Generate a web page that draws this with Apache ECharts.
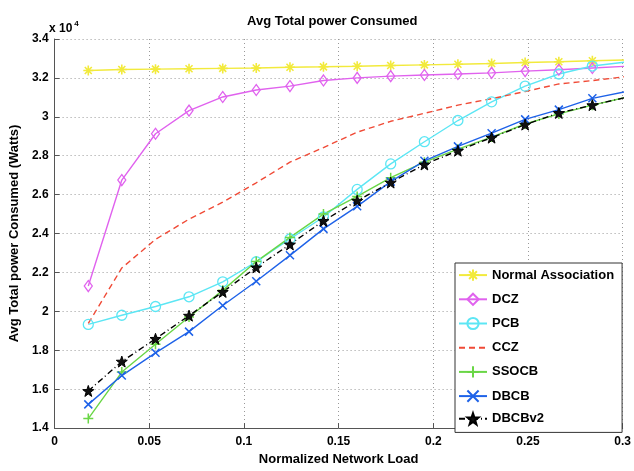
<!DOCTYPE html>
<html>
<head>
<meta charset="utf-8">
<script src="https://cdn.jsdelivr.net/npm/echarts@6/dist/echarts.min.js"></script>
<style>
html, body { margin: 0; padding: 0; background: #fff; }
#chart { width: 634px; height: 471px; }
</style>
</head>
<body>
<div id="chart"></div>
<script>
// normalized network load (x)
var loads = [0.0178, 0.0355, 0.0533, 0.0710, 0.0888, 0.1065, 0.1243, 0.1420, 0.1598,
  0.1775, 0.1953, 0.2130, 0.2308, 0.2485, 0.2663, 0.2840, 0.3018];

// avg total power consumed (Watts)
var normalAssoc = [32380, 32430, 32450, 32470, 32490, 32510, 32550, 32570, 32600,
  32640, 32670, 32700, 32740, 32790, 32830, 32880, 32920];
var dcz = [21300, 26750, 29130, 30320, 31020, 31380, 31580, 31870, 32000,
  32090, 32150, 32200, 32260, 32350, 32420, 32510, 32600];
var pcb = [19330, 19800, 20250, 20750, 21520, 22550, 23720, 24850, 26270,
  27580, 28720, 29810, 30770, 31580, 32200, 32610, 32820];
var ccz = [19380, 22230, 23700, 24740, 25610, 26610, 27670, 28420, 29210,
  29770, 30180, 30600, 30930, 31300, 31690, 31860, 32070];
var ssocb = [14490, 16880, 18310, 19710, 21080, 22560, 23800, 25000, 25910,
  26870, 27670, 28340, 28960, 29630, 30150, 30600, 31000];
var dbcb = [15220, 16700, 17870, 18960, 20300, 21550, 22880, 24240, 25400,
  26670, 27740, 28480, 29160, 29870, 30370, 30950, 31300];
var dbcbv2 = [15910, 17420, 18590, 19780, 21000, 22260, 23440, 24650, 25690,
  26620, 27550, 28260, 28930, 29600, 30200, 30600, 31000];

var xTicks = ['0', '0.05', '0.1', '0.15', '0.2', '0.25', '0.3'];

// matlab style markers
var asterisk = 'path://M0,-10L0,10M-10,0L10,0M-7,-7L7,7M-7,7L7,-7';
var plus = 'path://M0,-10L0,10M-10,0L10,0';
var cross = 'path://M-10,-10L10,10M-10,10L10,-10';
var diamond = 'path://M0,-10L7,0L0,10L-7,0Z';
var circle = 'path://M0,-10A10,10,0,1,1,0,10A10,10,0,1,1,0,-10Z';
var star = 'path://M0,-10L2.35,-3.24L9.51,-3.09L3.8,1.24L5.88,8.09L0,4L-5.88,8.09L-3.8,1.24L-9.51,-3.09L-2.35,-3.24Z';

function pairs(ys) {
  return ys.map(function (y, i) { return [loads[i], y]; });
}

function mk(name, ys, color, symbol, size, opts) {
  opts = opts || {};
  return {
    name: name,
    type: 'line',
    data: pairs(ys),
    symbol: symbol,
    symbolSize: size,
    showAllSymbol: true,
    clip: true,
    animation: false,
    lineStyle: { color: color, width: 1.4, type: opts.dash || 'solid' },
    itemStyle: {
      color: opts.fill || 'none',
      borderColor: color,
      borderWidth: opts.bw || 1.3
    }
  };
}

var chart = echarts.init(document.getElementById('chart'));
var font = 'Liberation Sans, Arial, sans-serif';

var option = {
  backgroundColor: '#fff',
  animation: false,
  title: {
    text: 'Avg Total power Consumed',
    left: 247,
    top: 15,
    padding: 0,
    textStyle: { fontFamily: font, fontSize: 13, fontWeight: 'bold', color: '#000' }
  },
  graphic: [{
    type: 'text',
    left: 49,
    top: 20,
    style: {
      text: 'x 10{s|4}',
      fontFamily: font,
      fontSize: 12,
      fontWeight: 'bold',
      fill: '#000',
      rich: { s: { fontSize: 8, fontWeight: 'bold', verticalAlign: 'top', padding: [0, 0, 9, 2] } }
    }
  }],
  grid: { left: 49, right: 10.5, top: 39, bottom: 34 },
  legend: {
    orient: 'vertical',
    left: 455,
    top: 263,
    padding: [4, 8, 7, 3],
    itemWidth: 28,
    itemHeight: 14,
    itemGap: 8,
    backgroundColor: '#fff',
    borderColor: '#333',
    borderWidth: 1,
    borderRadius: 0,
    data: [
      'Normal Association', 'DCZ', 'PCB',
      { name: 'CCZ', itemStyle: { opacity: 0 } },
      'SSOCB', 'DBCB', 'DBCBv2'
    ],
    textStyle: { fontFamily: font, fontSize: 13, fontWeight: 'bold', color: '#000' }
  },
  xAxis: {
    type: 'value',
    min: 0,
    max: 0.3,
    interval: 0.05,
    name: 'Normalized Network Load',
    nameLocation: 'middle',
    nameGap: 22,
    nameTextStyle: { fontFamily: font, fontSize: 13, fontWeight: 'bold', color: '#000', verticalAlign: 'top' },
    axisLine: { lineStyle: { color: '#555', width: 1 } },
    axisTick: { inside: true, length: 5, lineStyle: { color: '#555' } },
    axisLabel: {
      margin: 8,
      fontFamily: font, fontSize: 12, fontWeight: 'bold', color: '#000',
      formatter: function (v) { return xTicks[Math.round(v / 0.05)]; }
    },
    splitLine: { show: true, lineStyle: { color: '#999', type: [1, 3] } }
  },
  yAxis: {
    type: 'value',
    min: 14000,
    max: 34000,
    interval: 2000,
    name: 'Avg Total power Consumed (Watts)',
    nameLocation: 'middle',
    nameGap: 24,
    nameTextStyle: { fontFamily: font, fontSize: 13, fontWeight: 'bold', color: '#000' },
    axisLine: { show: true, lineStyle: { color: '#555', width: 1 } },
    axisTick: { show: true, inside: true, length: 5, lineStyle: { color: '#555' } },
    axisLabel: {
      margin: 6,
      fontFamily: font, fontSize: 12, fontWeight: 'bold', color: '#000',
      formatter: function (v) { return String(v / 10000); }
    },
    splitLine: { show: true, lineStyle: { color: '#999', type: [1, 3] } }
  },
  series: [
    mk('Normal Association', normalAssoc, '#F2EA3C', asterisk, 10, { bw: 1.6 }),
    mk('DCZ', dcz, '#E062EE', diamond, [8, 11]),
    mk('PCB', pcb, '#5CE6F4', circle, 10),
    mk('CCZ', ccz, '#F04A36', 'none', 0, { dash: [6, 4] }),
    mk('SSOCB', ssocb, '#6AD646', plus, 10, { bw: 1.5 }),
    mk('DBCB', dbcb, '#1E62E8', cross, 8, { bw: 1.5 }),
    mk('DBCBv2', dbcbv2, '#000000', star, 11, { dash: [6, 3, 1, 3], fill: '#111', bw: 1 })
  ]
};

option && chart.setOption(option);
</script>
</body>
</html>
